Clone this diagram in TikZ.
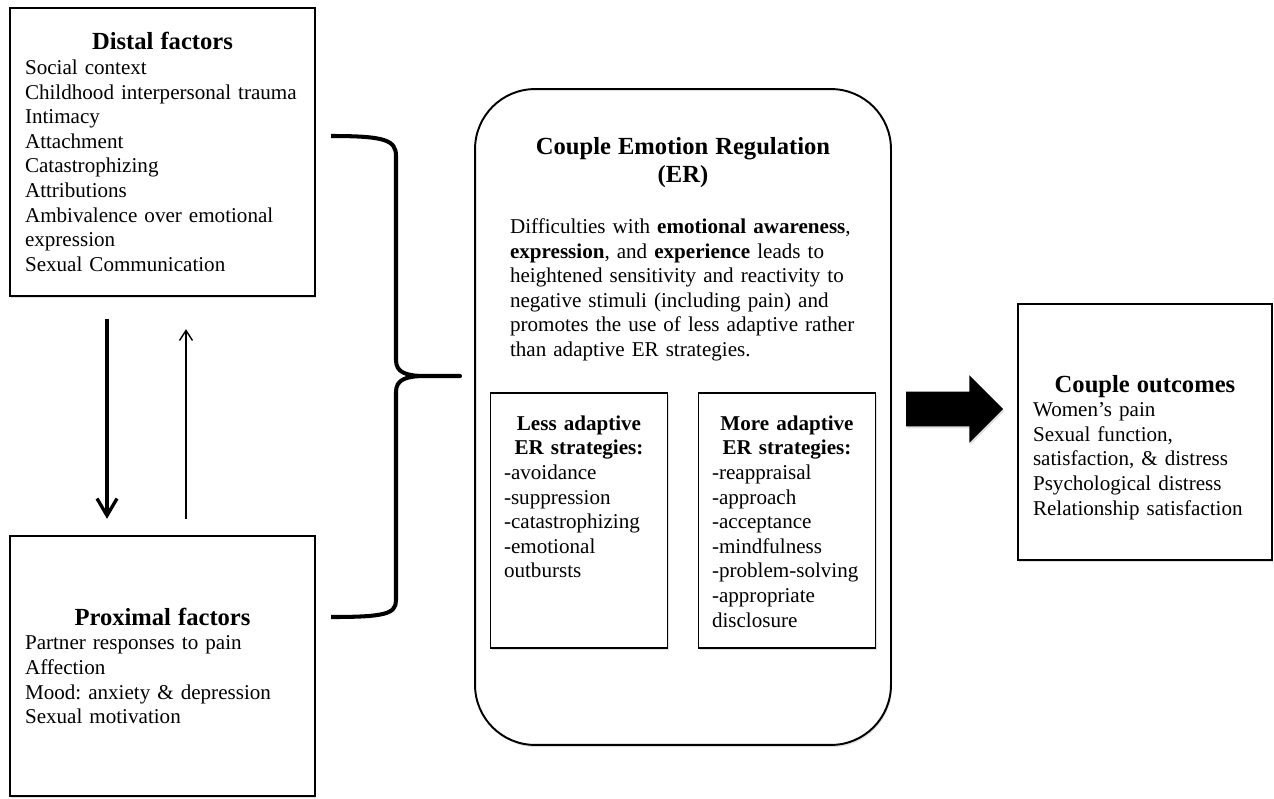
\documentclass[tikz,border=0pt]{standalone}
\usepackage{fontspec}
\setmainfont{Liberation Serif}
\usetikzlibrary{positioning,shadows,shapes.arrows,arrows.meta}

\frenchspacing
\newcommand{\boxhead}[1]{{\centering\fontsize{14}{16}\selectfont\bfseries #1\par}}
\newcommand{\stratgroup}[1]{{\centering\bfseries #1\par}}
\newcommand{\bodysize}{\fontsize{12}{14}\selectfont}

\tikzset{
	boxshadow/.style={drop shadow={opacity=0.25, shadow xshift=0.6pt, shadow yshift=-1.2pt}},
	factorbox/.style={draw, line width=1.4pt, fill=white, boxshadow, minimum width=6.1cm,
		text width=5.5cm, inner xsep=0.3cm, align=left, font=\bodysize},
	erbox/.style={draw, line width=1.1pt, fill=white, boxshadow, rounded corners=1.2cm,
		minimum width=8.32cm, minimum height=13.12cm},
	ertext/.style={text width=6.92cm, inner sep=0pt, align=left, font=\bodysize},
	stratbox/.style={draw, line width=0.7pt, fill=white, boxshadow, minimum width=3.54cm, minimum height=5.1cm},
	strattext/.style={text width=3.0cm, inner sep=0pt, align=left, font=\bodysize},
	downarrow/.style={-{Straight Barb[length=3.4mm, width=4mm]}, line width=1.9pt},
	uparrow/.style={-{Straight Barb[length=2mm, width=2.6mm]}, line width=0.8pt},
	bigarrow/.style={single arrow, fill=black, boxshadow, inner xsep=0pt, inner ysep=0.34cm,
		minimum height=1.94cm, single arrow head extend=0.33cm, single arrow tip angle=90}
}

\begin{document}
\begin{tikzpicture}[x=0.02cm, y=-0.02cm]
	\useasboundingbox (0,0) rectangle (1274,798);
	
	%factor boxes
	\node[factorbox, minimum height=5.76cm] (distal) at (162.5,152) {\boxhead{Distal factors}%
		Social context\\ Childhood interpersonal trauma\\ Intimacy\\ Attachment\\ Catastrophizing\\
		Attributions\\ Ambivalence over emotional\\ expression\\ Sexual Communication};
	\node[factorbox, minimum height=5.2cm] (proximal) at (162.5,666) {\boxhead{Proximal factors}%
		Partner responses to pain\\ Affection\\ Mood: anxiety \& depression\\ Sexual motivation};
	
	\draw[downarrow, shorten <=0.44cm, shorten >=0.32cm] ([xshift=-1.11cm]distal.south) -- ([xshift=-1.11cm]proximal.north);
	\draw[uparrow, shorten <=0.32cm, shorten >=0.64cm] ([xshift=0.47cm]proximal.north) -- ([xshift=0.47cm]distal.south);
	
	%brace
	\draw[line width=2.3pt, line join=round] (331,136) .. controls (385,136) and (396,140) .. (396,156)
		-- (396,360) .. controls (396,372) and (405,376) .. (425,376) -- (460,376) -- (425,376)
		.. controls (405,376) and (396,380) .. (396,392) -- (396,600)
		.. controls (396,614) and (385,617) .. (331,617);
	
	%emotion regulation
	\node[erbox] (er) at (683,417) {};
	\node[ertext, below=0.98cm of er.north] (erdesc) {\boxhead{Couple Emotion Regulation\\(ER)}\vspace{15pt}%
		Difficulties with \textbf{emotional awareness},\\ \textbf{expression}, and \textbf{experience} leads to\\
		heightened sensitivity and reactivity to\\ negative stimuli (including pain) and\\
		promotes the use of less adaptive rather\\ than adaptive ER strategies.};
	
	\node[stratbox] (less) at (579,520.5) {};
	\node[strattext, below=0.46cm of less.north] (lesstxt) {\stratgroup{Less adaptive\\ ER strategies:}%
		-avoidance\\ -suppression\\ -catastrophizing\\ -emotional\\ outbursts};
	\node[stratbox] (more) at (787,520.5) {};
	\node[strattext, below=0.46cm of more.north] (moretxt) {\stratgroup{More adaptive\\ ER strategies:}%
		-reappraisal\\ -approach\\ -acceptance\\ -mindfulness\\ -problem-solving\\ -appropriate\\ disclosure};
	
	%outcomes
	\node[bigarrow] (push) at (946,409) {};
	\node[factorbox, minimum width=5.08cm, text width=4.48cm, minimum height=5.12cm] (outcome) at (1145,432) {\boxhead{\rule{0pt}{0.95cm}Couple outcomes}%
		Women's pain\\ Sexual function,\\ satisfaction, \& distress\\ Psychological distress\\ Relationship satisfaction};
\end{tikzpicture}
\end{document}
